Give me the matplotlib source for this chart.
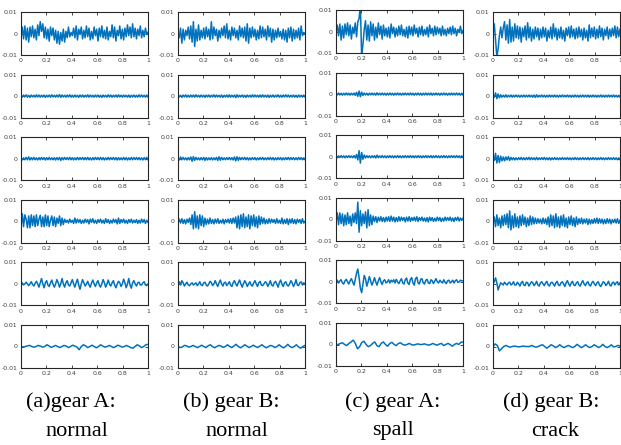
import numpy as np
import matplotlib as mpl
mpl.use('Agg')
import matplotlib.pyplot as plt

# signals, in units of 1e-4 (axes span -0.01 .. 0.01)
# row 1
r1_a = [-10, 30, -25, 35, -30, 25, -40, 30, -15, 35,
        -20, 20, -30, 40, -10, 55, 10, 45, -20, 30,
        -25, 20, -35, 30, -10, 25, -30, 15, -45, 10,
        -50, 5, -35, 20, -40, 10, -20, 30, -15, 5,
        -10, 25, -20, 35, -30, 20, -5, 30, -25, 15,
        -20, 35, -15, 25, -30, 10, -25, 30, -10, 20,
        -35, 25, -15, 35, -20, 15, -25, 30, -30, 10,
        -15, 40, -20, 30, -35, 15, -10, 35, -25, 20,
        -30, 25, -15, 40, -10, 30, -20, 45, -15, 25,
        -25, 20, -10, 35, -20, 15, -15, 25, -5, 5]
r1_b = [0, -20, 25, -45, 20, -30, 15, -10, 30, -25,
        35, -40, 55, -60, 20, -35, 40, -30, 15, -20,
        25, -25, 30, -15, 20, -30, 55, -25, 30, -10,
        20, -35, 15, -20, 25, -10, 35, -20, 45, -25,
        15, -30, 30, -10, 25, -20, 15, -30, 35, -15,
        25, -20, 30, -35, 45, -45, 25, -20, 30, -15,
        20, -30, 15, -25, 35, -20, 30, -15, 20, -30,
        35, -15, 25, -40, 20, -30, 15, -20, 25, -15,
        10, -25, 20, -30, 15, -40, 25, -20, 30, -35,
        20, -25, 15, -20, 25, -30, 35, -10, 5, 0]
r1_c = [-5, 30, -20, 35, -40, 25, -30, 35, -15, 40,
        -20, 30, -35, 20, -10, 40, -25, 45, 60, 120,
        -120, -60, 10, 50, -40, 30, -45, 45, -20, 35,
        -40, 20, -30, 40, -15, 25, -35, 30, -20, 15,
        -25, 20, -30, 35, -10, 20, -25, 15, -20, 25,
        -15, 30, -20, 10, -25, 20, -30, 25, -15, 20,
        -20, 30, -10, 15, -25, 20, -15, 25, -20, 10,
        -15, 20, -25, 30, -10, 15, -20, 25, -15, 20,
        -10, 15, -20, 25, -15, 10, -20, 15, -10, 20,
        -15, 25, -10, 15, -20, 10, -5, 25, -10, 5]
r1_d = [0, 45, -30, -110, -70, -10, 30, -20, 25, 55,
        -30, 40, -45, 65, -40, 30, -35, 45, -20, 35,
        -25, 30, -40, 25, -15, 35, -30, 50, -20, 30,
        -35, 20, -25, 30, -15, 25, -30, 20, -20, 30,
        -15, 25, -35, 15, -20, 30, -25, 45, -15, 25,
        -30, 20, -20, 30, -25, 15, -35, 25, -10, 30,
        -20, 35, -15, 20, -25, 25, -20, 30, -15, 20,
        -30, 25, -20, 15, -35, 40, -20, 25, -15, 30,
        -25, 20, -20, 35, -15, 25, -30, 20, -10, 30,
        -25, 20, -15, 25, -10, 35, -20, 30, -15, 20]

# row 2
r2_a = [4, -5, 5, -4, 6, -5, 4, -6, 5, -4, 4, -5, 6, -4, 5, -5, 4, -4, 5, -6,
        4, -4, 5, -5, 6, -4, 4, -5, 5, -4, 7, -6, 5, -4, 4, -5, 5, -4, 6, -5,
        4, -5, 5, -4, 4, -6, 5, -4, 5, -5, 4, -4, 6, -5, 5, -4, 4, -5, 5, -4,
        5, -5, 4, -6, 5, -4, 4, -5, 6, -4, 5, -5, 4, -4, 5, -5, 6, -4, 4, -5,
        5, -4, 4, -5, 5, -6, 4, -4, 5, -5, 4, -5, 6, -4, 5, -4, 4, -5, 5, -4]
r2_b = [5, -4, 4, -6, 5, -4, 6, -5, 4, -5, 5, -4, 5, -5, 6, -4, 4, -5, 5, -4,
        4, -6, 5, -4, 5, -5, 4, -4, 6, -5, 5, -4, 4, -5, 5, -6, 4, -4, 5, -5,
        6, -5, 4, -4, 5, -7, 6, -5, 4, -4, 5, -5, 4, -6, 5, -4, 4, -5, 6, -4,
        5, -4, 4, -5, 5, -5, 6, -4, 4, -5, 5, -6, 4, -4, 5, -5, 4, -4, 6, -5,
        4, -5, 5, -4, 6, -4, 5, -5, 4, -4, 5, -5, 4, -6, 5, -4, 4, -5, 5, -4]
r2_c = [4, -4, 5, -4, 4, -5, 4, -4, 5, -4, 4, -5, 4, -4, 5, -6, 8, -10, 14, -12,
        9, -6, 5, -4, 4, -5, 4, -4, 5, -4, 4, -5, 6, -4, 4, -4, 5, -4, 4, -5,
        4, -4, 5, -4, 4, -5, 4, -4, 5, -4, 4, -5, 4, -4, 5, -4, 4, -4, 5, -4,
        4, -5, 4, -4, 5, -4, 4, -5, 4, -4, 5, -4, 4, -4, 5, -5, 4, -4, 5, -4,
        4, -5, 4, -4, 5, -4, 4, -5, 4, -4, 5, -4, 4, -4, 5, -4, 4, -5, 4, -4]
r2_d = [4, -5, 15, -12, 10, -8, 6, -5, 4, -5, 6, -5, 4, -4, 5, -5, 4, -4, 5, -4,
        4, -5, 4, -4, 5, -4, 4, -4, 5, -4, 4, -5, 5, -6, 6, -5, 4, -4, 5, -4,
        4, -5, 4, -4, 5, -4, 4, -4, 5, -4, 4, -5, 4, -4, 5, -4, 4, -4, 5, -4,
        4, -5, 4, -4, 5, -4, 4, -5, 4, -4, 5, -4, 4, -4, 5, -5, 4, -4, 5, -4,
        4, -5, 4, -4, 5, -4, 4, -5, 4, -4, 5, -4, 4, -4, 5, -4, 4, -5, 4, -4]

# row 3
r3_a = [5, -6, 4, -5, 6, -5, 8, -6, 5, -5, 6, -5, 4, -6, 5, -5, 6, -4, 5, -6,
        5, -5, 6, -5, 4, -5, 5, -6, 5, -5, 6, -8, 5, -5, 6, -4, 5, -5, 6, -5,
        5, -6, 4, -5, 6, -5, 5, -4, 6, -5, 5, -5, 6, -5, 4, -6, 5, -5, 6, -4,
        5, -5, 6, -5, 5, -6, 4, -5, 6, -5, 5, -4, 6, -5, 5, -6, 5, -5, 4, -5,
        6, -5, 5, -6, 4, -5, 6, -5, 5, -4, 6, -5, 5, -5, 4, -6, 5, -5, 6, -5]
r3_b = [5, -6, 8, -5, 6, -5, 4, -6, 5, -5, 8, -12, 10, -8, 6, -5, 4, -6, 5, -5,
        6, -8, 5, -6, 4, -5, 5, -6, 4, -5, 6, -8, 9, -7, 6, -5, 4, -5, 5, -4,
        6, -5, 5, -6, 8, -10, 9, -8, 6, -5, 5, -4, 6, -5, 5, -6, 4, -5, 5, -4,
        5, -6, 4, -5, 5, -4, 6, -5, 4, -5, 5, -4, 6, -5, 5, -6, 4, -5, 5, -4,
        5, -6, 4, -5, 5, -4, 6, -5, 5, -4, 5, -5, 4, -5, 6, -4, 5, -5, 4, -4]
r3_c = [4, -5, 4, -4, 5, -4, 4, -5, 4, -4, 5, -4, 4, -5, 5, -6, 10, -15, 28, -30,
        20, -12, 8, -6, 5, -4, 4, -5, 4, -4, 5, -6, 7, -5, 4, -4, 5, -4, 4, -5,
        4, -4, 5, -4, 4, -5, 4, -4, 5, -4, 4, -5, 4, -4, 5, -4, 4, -4, 5, -4,
        4, -5, 4, -4, 5, -4, 4, -5, 4, -4, 5, -4, 4, -4, 5, -5, 4, -4, 5, -4,
        4, -5, 4, -4, 5, -4, 4, -5, 4, -4, 5, -4, 4, -4, 5, -4, 4, -5, 4, -4]
r3_d = [5, -8, 25, -20, 15, -18, 12, -10, 8, -10, 8, -6, 10, -8, 6, -5, 5, -6, 4, -5,
        5, -4, 6, -5, 4, -5, 5, -4, 6, -5, 5, -4, 4, -5, 6, -5, 4, -4, 5, -4,
        6, -5, 4, -5, 5, -6, 4, -4, 5, -4, 4, -5, 4, -4, 5, -4, 4, -4, 5, -4,
        4, -5, 4, -4, 5, -4, 4, -5, 4, -4, 5, -4, 4, -4, 5, -5, 4, -4, 5, -4,
        4, -5, 4, -4, 5, -4, 4, -5, 4, -4, 5, -4, 4, -4, 5, -4, 4, -5, 4, -4]

# row 4
r4_a = [-30, 35, -25, 30, 10, -30, 25, -30, 30, -20,
        25, -25, 30, -20, 10, 28, -25, 20, -25, 30,
        -20, 25, -25, 5, 25, -20, 20, -25, 15, -10,
        25, -20, 15, -15, 10, -5, 5, -8, 10, -5,
        5, -10, 15, -8, 10, -5, 8, -10, 5, -8,
        10, -5, 8, -12, 10, -5, 12, -8, 5, -10,
        8, -5, 10, -8, 5, -10, 12, -6, 8, -10,
        5, -8, 10, -5, 8, -12, 15, -10, 8, -5,
        10, -8, 5, -10, 8, -5, 10, -8, 5, -6,
        8, -10, 5, -8, 10, -5, 8, -10, 5, -5]
r4_b = [0, 10, -8, 12, -10, 8, -12, 10, -5, 15,
        -15, 30, -35, 45, -30, 25, -35, 30, -20, 25,
        -25, 15, -15, 10, -12, 15, -10, 8, -12, 10,
        -8, 12, -10, 5, -8, 10, -12, 8, -5, 10,
        -8, 12, -10, 15, -8, 20, -30, 25, -35, 30,
        -25, 35, -30, 20, -25, 30, -35, 25, -20, 30,
        -25, 20, -30, 25, -15, 20, -10, 15, -12, 8,
        -10, 12, -8, 10, -5, 8, -10, 12, -8, 5,
        -10, 15, -12, 8, -10, 12, -15, 10, -8, 12,
        -10, 8, -12, 10, -5, 8, -10, 12, -8, 0]
r4_c = [-10, 30, -25, 30, -20, 25, -30, 20, -25, 30,
        -20, 15, -30, 25, -15, 30, -20, 80, -60, 40,
        -30, 25, -20, 35, -40, 45, -30, 20, -25, 15,
        -10, 12, -15, 10, -8, 12, -10, 8, -12, 10,
        -8, 12, -10, 15, -8, 10, -12, 8, -10, 12,
        -8, 10, -5, 8, -12, 10, -8, 12, -10, 8,
        -6, 10, -8, 12, -10, 8, -5, 10, -8, 6,
        -10, 8, -12, 10, -6, 8, -10, 5, -8, 10,
        -6, 8, -10, 5, -8, 10, -6, 8, -5, 10,
        -8, 6, -10, 8, -5, 10, -8, 6, -5, 5]
r4_d = [0, 20, -25, 30, -20, 15, -30, 25, -20, 30,
        -15, 35, -30, 48, -40, 25, -30, 35, -25, 20,
        -30, 25, -20, 30, -15, 20, -25, 15, -20, 25,
        -15, 20, -12, 15, -10, 12, -8, 10, -12, 15,
        -10, 12, -15, 20, -25, 30, -20, 25, -30, 35,
        -25, 20, -30, 25, -20, 30, -25, 15, -30, 20,
        -15, 25, -20, 15, -25, 20, -15, 12, -10, 15,
        -12, 10, -8, 12, -15, 10, -12, 8, -10, 12,
        -8, 15, -10, 12, -8, 10, -12, 8, -10, 12,
        -8, 10, -12, 8, -6, 10, -8, 12, -10, 5]

# row 5
r5_a = [0, 5, -5, 0, 8, 0, -8, 0, 10, -2,
        -10, 2, 12, 0, -15, 5, 25, 0, -18, 5,
        15, -5, -12, 5, 18, -2, -15, 0, 20, 5,
        -15, 0, 25, 0, -15, 5, 15, -5, -10, 5,
        20, 0, -15, 5, 22, -5, -25, 0, 20, 5,
        -10, 0, 12, -5, -15, 5, 18, 0, -12, 5,
        15, -5, -15, 0, 20, 5, -15, 0, 18, -2,
        -10, 5, 15, -5, -18, 0, 12, 5, -12, 0,
        22, 5, -18, 0, 25, -5, -20, 5, 15, 0,
        -10, 5, 8, -5, -5, 5, 10, -5, -8, 0]
r5_b = [0, 10, -5, 15, 5, -10, 0, 8, -5, -8,
        0, 5, -5, 0, 5, -8, 0, 10, -5, -8,
        5, 8, -5, -10, 0, 12, 5, -8, 0, 15,
        0, -12, 5, 18, 0, -10, 5, 8, -8, 0,
        10, -5, -12, 5, 15, 0, -10, 5, 18, 0,
        -15, 0, 15, 5, -12, 0, 10, -5, -10, 5,
        15, 0, -12, 5, 12, -5, -8, 0, 10, 5,
        -12, 0, 15, -5, -10, 5, 12, 0, -15, 5,
        18, 0, -12, 5, 10, -5, -10, 0, 15, 5,
        -12, 0, 20, -5, -8, 5, 10, -5, 5, 0]
r5_c = [0, 8, -5, 5, 10, -5, -10, 5, 12, 0,
        -10, 5, 15, 0, -15, 10, 40, 60, 20, -30,
        -50, -10, 30, 15, -20, 0, 25, 5, -15, 0,
        20, 0, -15, 5, 20, 0, -12, 5, 10, -5,
        0, 10, -5, 8, 0, 10, -5, 12, 0, -8,
        5, 15, -5, -10, 10, 18, -5, -12, 12, 20,
        -5, -15, 15, 22, -5, -10, 12, 15, -5, -10,
        8, 12, -5, -8, 10, 5, -8, 5, 15, 0,
        -5, 8, 0, -5, 10, -2, -8, 5, 8, -5,
        0, 8, -5, 5, 10, -2, 0, 8, 5, 5]
r5_d = [0, 10, 28, 5, -28, -10, 5, 0, -5, 8,
        0, -5, 5, 8, -5, 0, 10, -5, -5, 8,
        0, -10, 5, 12, -5, -8, 8, 5, -10, 0,
        10, 5, -8, 0, 12, -5, -10, 5, 10, 0,
        -8, 5, 12, -5, -10, 5, 8, 0, -10, 5,
        12, -5, -8, 5, 10, 0, -12, 5, 15, 0,
        -10, 5, 12, -5, -8, 5, 10, -5, -10, 5,
        15, 0, -8, 5, 10, -5, -10, 5, 12, 0,
        -8, 5, 10, -5, -12, 0, 10, 5, -8, 0,
        12, -5, -10, 5, 8, -5, 5, 10, -5, 5]

# row 6
r6_a = [0, -2, 0, 3, 5, 0, -3, 0, 5, 2,
        -3, 0, 8, 3, -4, 0, 5, 0, -5, 0,
        5, 2, -5, 0, 6, 2, -3, -15, 0, 8,
        3, -5, 0, 6, 0, -6, 0, 8, 2, -3,
        0, 5, 0, -5, 0, 6, 2, -3, 0, 5,
        0, -5, -8, 0, 8, 3, -5, 0, 8, 10]
r6_b = [0, -5, -2, 5, 3, -3, 0, 5, 0, -5,
        0, 6, 0, -5, 3, 8, 0, -6, 0, 5,
        2, -4, 0, 8, 0, -5, 3, 10, 0, -6,
        0, 8, 2, -5, 0, 6, 0, -5, 2, 8,
        0, -6, 0, 5, 2, -5, 0, 8, 0, -6,
        0, 10, 0, -5, 0, 8, -2, -8, 0, 5]
r6_c = [0, 0, 5, 8, 0, -5, 5, 12, 20, 5,
        -20, -10, 10, 15, 0, -10, -5, 5, 12, -5,
        -10, 5, 12, 0, -8, 5, 10, 0, -5, 5,
        8, 0, -3, 0, 5, 0, -3, 0, 3, 0,
        0, 3, 0, -3, 0, 5, 0, -3, 2, 5,
        -5, 0, 5, 0, -8, 0, 5, 0, 10, 12]
r6_d = [0, 12, 5, -20, -10, 0, 5, 0, -3, 0,
        2, 0, -2, 0, 2, 0, 0, 0, 5, 0,
        -3, 0, 5, 8, 0, -8, 0, 8, 3, -5,
        0, 8, 0, -5, 0, 5, 0, -5, 0, 10,
        3, -5, 0, 8, 0, -5, 0, 8, 2, -5,
        0, 10, 0, -5, 0, 8, -2, 0, 5, 2]

signals = [[r1_a, r1_b, r1_c, r1_d],
           [r2_a, r2_b, r2_c, r2_d],
           [r3_a, r3_b, r3_c, r3_d],
           [r4_a, r4_b, r4_c, r4_d],
           [r5_a, r5_b, r5_c, r5_d],
           [r6_a, r6_b, r6_c, r6_d]]

captions_top = ['(a)gear A:', '(b) gear B:', '(c) gear A:', '(d) gear B:']
captions_bot = ['normal', 'normal', 'spall', 'crack']
xticks = [0, 0.2, 0.4, 0.6, 0.8, 1]
xticklabels = ['0', '0.2', '0.4', '0.6', '0.8', '1']
yticks = [-0.01, 0, 0.01]
yticklabels = ['-0.01', '0', '0.01']

W, H = 621, 445
fig = plt.figure(figsize=(W / 100, H / 100), dpi=100)

# layout in pixels
col_left = [21, 178, 336, 493]
col_shift = [0, 0, -2, 0]
row_top = [12, 74.6, 137.2, 199.8, 262.4, 325]
ax_w, ax_h = 127, 43

for i in range(6):
    for j in range(4):
        top = row_top[i] + col_shift[j]
        ax = fig.add_axes([col_left[j] / W, 1 - (top + ax_h) / H, ax_w / W, ax_h / H])
        y = np.array(signals[i][j]) * 1e-4
        x = np.linspace(0, 1, len(y))
        ax.plot(x, y, color='#0072BD', lw=1.1)
        ax.set_xlim(0, 1)
        ax.set_ylim(-0.01, 0.01)
        ax.set_xticks(xticks)
        ax.set_xticklabels(xticklabels)
        ax.set_yticks(yticks)
        ax.set_yticklabels(yticklabels)
        ax.tick_params(direction='in', length=2, width=0.5, top=True, right=True,
                       labelsize=4.5, labelcolor='#404040', pad=2.5)
        for s in ax.spines.values():
            s.set_color('#262626')
            s.set_linewidth(0.8)

cap_x1 = [71, 231, 393, 551]
cap_x2 = [77, 237, 393, 555]
for j in range(4):
    fig.text(cap_x1[j] / W, 1 - 402 / H, captions_top[j], ha='center', va='center',
             fontsize=16, family='Liberation Serif')
    fig.text(cap_x2[j] / W, 1 - 431 / H, captions_bot[j], ha='center', va='center',
             fontsize=16, family='Liberation Serif')

fig.savefig('out.png', dpi=100)
